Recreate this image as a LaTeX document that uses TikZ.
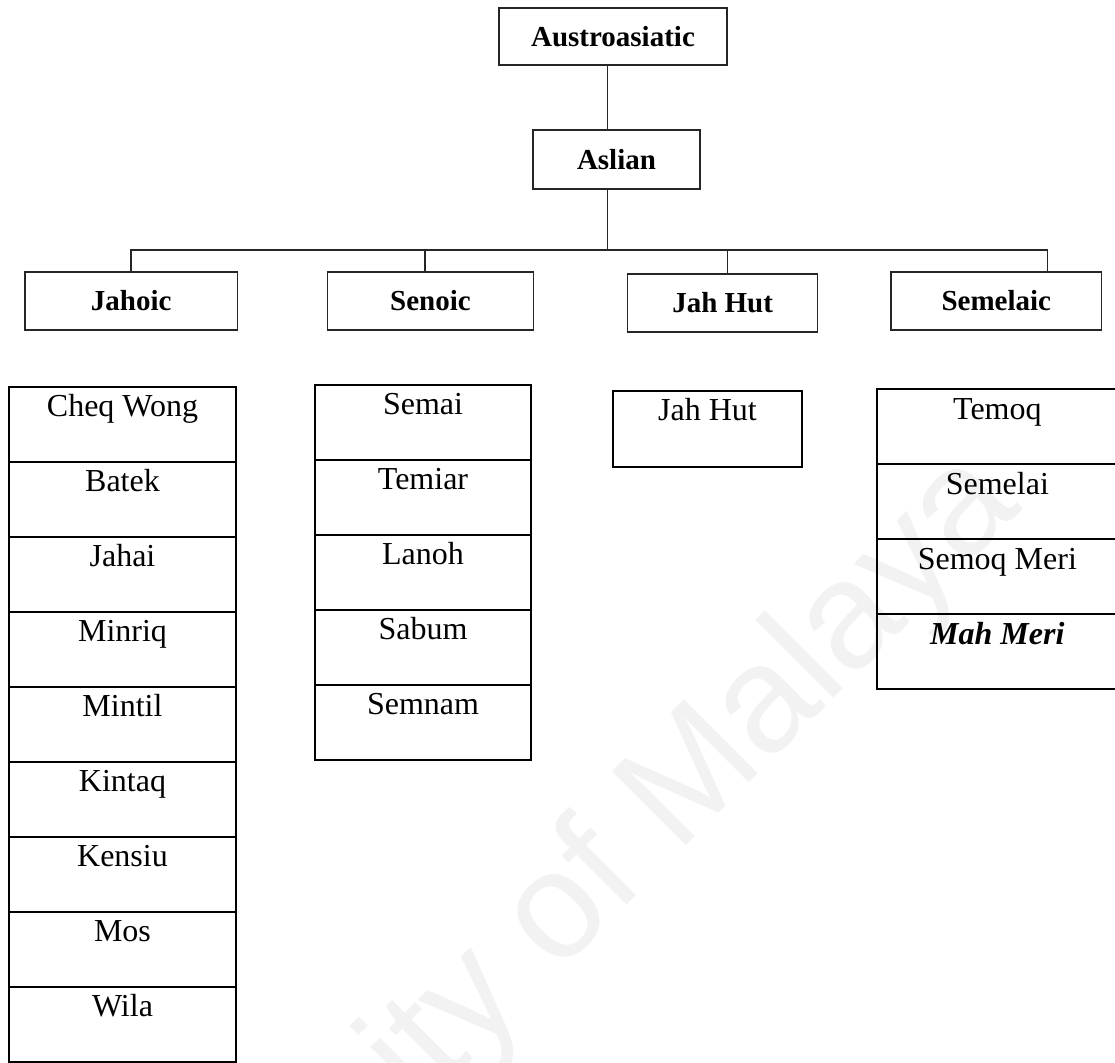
\documentclass[tikz,border=0pt]{standalone}
\usepackage{fontspec}
\setmainfont{Liberation Serif}
\newfontfamily\wmfont{Liberation Sans}
\begin{document}
\begin{tikzpicture}[x=1pt,y=-1pt,
  hdr/.style={draw=black!85, line width=1.1pt, inner sep=0pt,
    font=\fontsize{29}{34}\selectfont\bfseries},
  link/.style={draw=black!85, line width=1.1pt},
  cell/.style={draw=black, line width=2pt, inner sep=0pt,
    text height=30pt, text depth=45pt, font=\fontsize{32}{38}\selectfont},
  mark text/.style={rotate=45, anchor=base, inner sep=0pt, text=black!5,
    font=\wmfont\fontsize{152}{160}\selectfont}]
\useasboundingbox (0,0) rectangle (1115,1062);

% background watermark
\node[mark text] (wm) at (540,992) {University of Malaya};

% family tree headings
\node[hdr, minimum width=228pt, minimum height=57pt] (austro) at (613,36.5) {Austroasiatic};
\node[hdr, minimum width=167pt, minimum height=59pt] (aslian) at (616.5,159.5) {Aslian};
\node[hdr, minimum width=212.5pt, minimum height=58pt] (jahoic) at (131.25,301) {Jahoic};
\node[hdr, minimum width=206pt, minimum height=58pt] (senoic) at (430.5,301) {Senoic};
\node[hdr, minimum width=190pt, minimum height=58pt] (jahhut) at (722.6,303) {Jah Hut};
\node[hdr, minimum width=210.6pt, minimum height=58pt] (semelaic) at (996.3,301) {Semelaic};

% trunk and branches
\coordinate (trunk) at (607.7,250);
\coordinate (busW) at (131,250);
\coordinate (busE) at (1047.8,250);
\coordinate (dropSen) at (425,250);
\coordinate (dropJH) at (727.4,250);
\draw[link] (austro.south -| trunk) -- (aslian.north -| trunk);
\draw[link] (aslian.south -| trunk) -- (trunk);
\draw[link] (busW |- jahoic.north) -- (busW) -- (busE) -- (busE |- semelaic.north);
\draw[link] (dropSen) -- (dropSen |- senoic.north);
\draw[link] (dropJH) -- (dropJH |- jahhut.north);

% language lists
\foreach \lang [count=\i from 0] in {Cheq Wong,Batek,Jahai,Minriq,Mintil,Kintaq,Kensiu,Mos,Wila}
  \node[cell, minimum width=227pt] (jl\i) at (122.5,{424.2+75*\i}) {\lang};
\foreach \lang [count=\i from 0] in {Semai,Temiar,Lanoh,Sabum,Semnam}
  \node[cell, minimum width=216pt] (sl\i) at (423,{422.2+75*\i}) {\lang};
\node[cell, minimum width=189.6pt, text depth=46.6pt] (hl0) at (707.5,429) {Jah Hut};
\foreach \lang [count=\i from 0] in {Temoq,Semelai,Semoq Meri,\textbf{\textit{Mah Meri}}}
  \node[cell, minimum width=241.3pt] (ml\i) at (997.35,{426.5+75*\i}) {\lang};
\end{tikzpicture}
\end{document}
